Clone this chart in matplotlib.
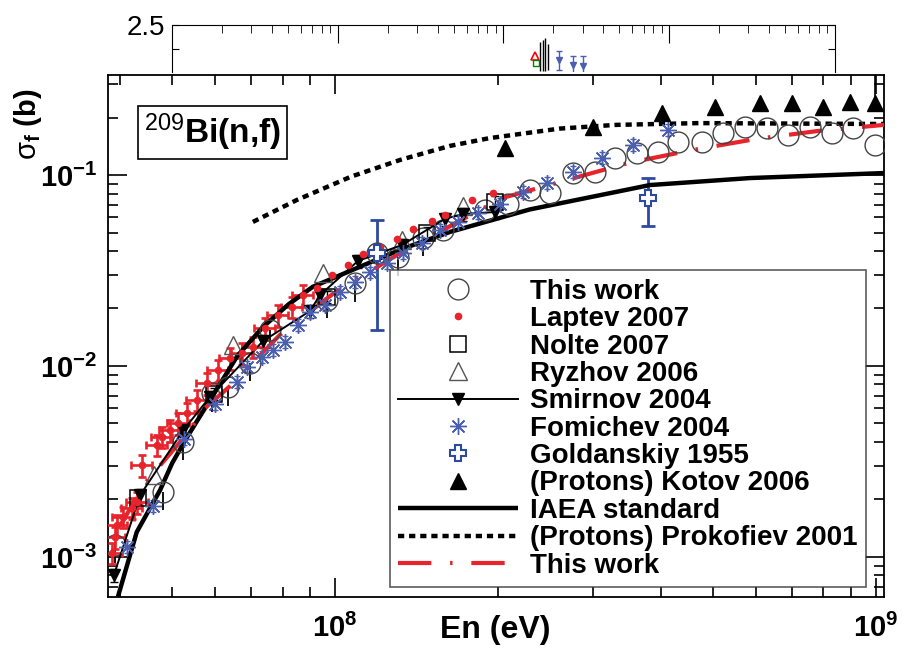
import math
import matplotlib
matplotlib.use('Agg')
import matplotlib.pyplot as plt
from matplotlib.ticker import LogLocator, FuncFormatter, NullFormatter, FixedLocator

plt.rcParams['font.family'] = ['Liberation Sans', 'DejaVu Sans']
plt.rcParams['mathtext.fontset'] = 'custom'
plt.rcParams['mathtext.rm'] = 'Liberation Sans'
plt.rcParams['mathtext.bf'] = 'Liberation Sans:bold'
plt.rcParams['mathtext.it'] = 'Liberation Sans:italic'
plt.rcParams['mathtext.sf'] = 'Liberation Sans'

RED = '#e8232b'
BLUE = '#4a5fb0'
DBLUE = '#2e4aa0'

# ---- data: neutron energy (eV), fission cross section (b) ----
this_e = [3.92e7, 4.81e7, 5.24e7, 5.92e7, 6.34e7, 6.96e7, 7.59e7, 9.66e7, 1.089e8, 1.196e8,
          1.307e8, 1.454e8, 1.583e8, 1.893e8, 2.088e8, 2.293e8, 2.497e8, 2.754e8, 3.024e8,
          3.294e8, 3.616e8, 3.954e8, 4.305e8, 4.77e8, 5.21e8, 5.73e8, 6.29e8, 6.88e8,
          7.55e8, 8.29e8, 9.07e8, 9.96e8]
this_s = [1.16e-3, 2.19e-3, 4.0e-3, 7.22e-3, 7.76e-3, 0.01037, 0.0154, 0.0222, 0.0272, 0.0391,
          0.0372, 0.0468, 0.0515, 0.0656, 0.0705, 0.0835, 0.0805, 0.1024, 0.1037,
          0.1228, 0.1303, 0.1318, 0.149, 0.149, 0.166, 0.178, 0.176, 0.162,
          0.178, 0.1665, 0.176, 0.1436]

laptev_e = [3.87e7, 3.92e7, 3.95e7, 4.06e7, 4.21e7, 4.31e7, 4.40e7, 4.69e7, 4.79e7, 4.95e7,
            5.13e7, 5.33e7, 5.56e7, 5.80e7, 6.08e7, 6.40e7, 6.73e7, 7.05e7, 7.42e7, 7.85e7,
            8.33e7, 8.73e7, 9.26e7, 9.87e7, 1.057e8, 1.127e8, 1.211e8, 1.302e8, 1.394e8,
            1.511e8, 1.597e8, 1.792e8, 1.96e8]
laptev_s = [1.05e-3, 1.27e-3, 1.47e-3, 1.62e-3, 1.81e-3, 1.94e-3, 3.03e-3, 3.86e-3, 4.25e-3, 4.62e-3,
            5.03e-3, 5.68e-3, 6.64e-3, 8.15e-3, 9.53e-3, 0.0110, 0.0117, 0.0126, 0.0158, 0.0185,
            0.0204, 0.0235, 0.0256, 0.0299, 0.0338, 0.0386, 0.0420, 0.0462, 0.0521,
            0.0574, 0.0618, 0.0740, 0.0805]

nolte_e = [4.32e7, 5.97e7, 9.66e7, 1.479e8, 1.975e8]
nolte_s = [2.04e-3, 7.13e-3, 0.023, 0.0497, 0.0723]

ryzhov_e = [4.63e7, 6.48e7, 9.50e7, 1.33e8, 1.724e8]
ryzhov_s = [2.69e-3, 0.0129, 0.0307, 0.0457, 0.0689]

smirnov_e = [3.9e7, 4.36e7, 5.24e7, 5.87e7, 7.36e7, 8.99e7, 9.38e7, 1.103e8, 1.33e8, 1.597e8, 1.724e8, 1.975e8]
smirnov_s = [8.0e-4, 2.1e-3, 4.6e-3, 6.88e-3, 0.0135, 0.0194, 0.0235, 0.0355, 0.043, 0.0589, 0.0625, 0.064]

fomichev_e = [4.13e7, 4.61e7, 5.26e7, 6.00e7, 6.59e7, 6.88e7, 7.33e7, 7.68e7, 8.08e7, 8.54e7,
              8.99e7, 9.58e7, 1.021e8, 1.089e8, 1.161e8, 1.248e8, 1.336e8, 1.448e8, 1.564e8,
              1.688e8, 1.838e8, 2.018e8, 2.226e8, 2.465e8, 2.754e8, 3.116e8, 3.555e8, 4.126e8]
fomichev_s = [1.13e-3, 1.85e-3, 4.15e-3, 6.33e-3, 8.25e-3, 9.88e-3, 0.01114, 0.01213, 0.01336, 0.0164,
              0.0192, 0.0209, 0.0244, 0.0275, 0.0310, 0.0346, 0.0391, 0.0441, 0.0515,
              0.0567, 0.0632, 0.0705, 0.0815, 0.0908, 0.1037, 0.1228, 0.1436, 0.172]

gold_e = [1.196e8, 3.79e8]
gold_s = [0.0391, 0.0758]
gold_lo = [0.0154, 0.0541]
gold_hi = [0.0581, 0.0964]

kotov_e = [2.06e8, 3.0e8, 4.02e8, 5.04e8, 6.11e8, 7.0e8, 7.98e8, 8.95e8, 9.96e8]
kotov_s = [0.1383, 0.178, 0.2114, 0.227, 0.238, 0.238, 0.227, 0.241, 0.238]

iaea_e = [3.97e7, 4.3e7, 4.75e7, 5.0e7, 5.33e7, 6.0e7, 6.6e7, 7.36e7, 8.2e7, 9.1e7, 1.11e8,
          1.33e8, 1.63e8, 2.29e8, 3.82e8, 5.85e8, 1.035e9]
iaea_s = [6.2e-4, 1.35e-3, 2.24e-3, 3.1e-3, 4.25e-3, 7.3e-3, 0.0113, 0.016, 0.021, 0.026, 0.033,
          0.041, 0.0503, 0.066, 0.0886, 0.0964, 0.1024]

prok_e = [7.05e7, 8.5e7, 1.07e8, 1.32e8, 1.63e8, 1.93e8, 2.6e8, 3.3e8, 4.7e8, 1.035e9]
prok_s = [0.0568, 0.074, 0.098, 0.12, 0.142, 0.156, 0.175, 0.183, 0.187, 0.185]

fit_e = [4.0e7, 4.49e7, 5.4e7, 5.7e7, 6.4e7, 7.9e7, 9.9e7, 1.3e8, 1.74e8, 2.04e8, 2.68e8,
         3.48e8, 4.57e8, 5.97e8, 7.8e8, 1.035e9]
fit_s = [1.45e-3, 2.5e-3, 4.62e-3, 5.9e-3, 7.85e-3, 0.0145, 0.0238, 0.038, 0.0596, 0.0758, 0.094,
         0.1155, 0.135, 0.154, 0.17, 0.183]

# small stray strip at the top of the page
strip_bar_x = [166, 172, 178, 186]
strip_bar_lo = [1.52, 1.52, 1.52, 1.55]
strip_bar_hi = [2.14, 2.18, 2.22, 2.1]
strip_blue_x = [217, 262, 302]
strip_blue_y = [1.75, 1.65, 1.63]

fig = plt.figure(figsize=(9.03, 6.52), dpi=100)
ax = fig.add_axes([108 / 903, 1 - 597 / 652, 776 / 903, 522 / 652])
ax.set_xscale('log')
ax.set_yscale('log')

# error bars first
ax.errorbar(laptev_e[:22], laptev_s[:22],
            xerr=[e * 0.045 for e in laptev_e[:22]], yerr=[s * 0.13 for s in laptev_s[:22]],
            fmt='none', ecolor=RED, elinewidth=1.9, capsize=3.2, capthick=1.9, zorder=3)
ax.errorbar(this_e[:12], this_s[:12], yerr=[[s * 0.2 for s in this_s[:12]], [0] * 12],
            fmt='none', ecolor='black', elinewidth=1.3, capsize=0, zorder=2)
ax.errorbar(smirnov_e, smirnov_s, yerr=[s * 0.08 for s in smirnov_s],
            fmt='none', ecolor='black', elinewidth=1.0, capsize=3, zorder=2)
ax.errorbar(nolte_e, nolte_s, yerr=[s * 0.07 for s in nolte_s],
            fmt='none', ecolor='black', elinewidth=1.0, capsize=3, zorder=2)
ax.errorbar(fomichev_e, fomichev_s, yerr=[s * 0.07 for s in fomichev_s],
            fmt='none', ecolor=BLUE, elinewidth=1.0, capsize=2.5, zorder=2)
ax.errorbar(gold_e, gold_s,
            yerr=[[s - lo for s, lo in zip(gold_s, gold_lo)], [hi - s for s, hi in zip(gold_s, gold_hi)]],
            fmt='none', ecolor=DBLUE, elinewidth=2, capsize=5, capthick=2, zorder=2)
ax.errorbar(kotov_e[-1:], kotov_s[-1:], yerr=[[0], [0.2]], fmt='none', ecolor='black',
            elinewidth=1.2, capsize=0, zorder=2)

# curves
h_iaea, = ax.plot(iaea_e, iaea_s, color='black', lw=3.2, solid_capstyle='butt', zorder=4,
                  label='IAEA standard')
h_prok, = ax.plot(prok_e, prok_s, color='black', lw=3.2, linestyle=(0, (1.4, 1.1)), zorder=4,
                  label='(Protons) Prokofiev 2001')
h_fit, = ax.plot(fit_e, fit_s, color=RED, lw=3.0, linestyle=(0, (8, 4.5, 0.6, 4.5)), zorder=5,
                 label='This work')

# markers
h_this, = ax.plot(this_e, this_s, 'o', ms=15, mfc='none', mec='#444444', mew=1.0, zorder=6,
                  label='This work')
h_lap, = ax.plot(laptev_e, laptev_s, 'o', ms=4.5, color=RED, mec=RED, zorder=7, label='Laptev 2007')
h_nol, = ax.plot(nolte_e, nolte_s, 's', ms=11, mfc='none', mec='black', mew=1.1, zorder=6,
                 label='Nolte 2007')
h_ryz, = ax.plot(ryzhov_e, ryzhov_s, '^', ms=13, mfc='none', mec='#555555', mew=1.0, zorder=6,
                 label='Ryzhov 2006')
h_smi, = ax.plot(smirnov_e, smirnov_s, 'v', ls='-', lw=1.4, ms=9, color='black', zorder=6,
                 label='Smirnov 2004')
h_fom, = ax.plot(fomichev_e, fomichev_s, marker=(8, 2, 0), ls='none', ms=12, color=BLUE, mew=1.0,
                 zorder=6, label='Fomichev 2004')
h_gol, = ax.plot(gold_e, gold_s, 'P', ms=12, mfc='white', mec=DBLUE, mew=1.5, zorder=7,
                 label='Goldanskiy 1955')
h_kot, = ax.plot(kotov_e, kotov_s, '^', ms=11, color='black', zorder=6, label='(Protons) Kotov 2006')

ax.set_xlim(3.805e7, 1.035e9)
ax.set_ylim(6.17e-4, 0.334)


def pow_fmt(v, pos):
    if v <= 0:
        return ''
    p = int(round(math.log10(v)))
    return r'$\mathbf{10}^{\mathbf{%d}}$' % p


ax.xaxis.set_major_locator(FixedLocator([1e8, 1e9]))
ax.yaxis.set_major_locator(FixedLocator([1e-3, 1e-2, 1e-1]))
ax.xaxis.set_minor_locator(LogLocator(base=10, subs=range(2, 10)))
ax.yaxis.set_minor_locator(LogLocator(base=10, subs=range(2, 10)))
ax.xaxis.set_major_formatter(FuncFormatter(pow_fmt))
ax.yaxis.set_major_formatter(FuncFormatter(pow_fmt))
ax.xaxis.set_minor_formatter(NullFormatter())
ax.yaxis.set_minor_formatter(NullFormatter())
ax.tick_params(which='both', direction='in', top=True, right=True, width=1.2, labelsize=21)
ax.tick_params(which='major', length=14)
ax.tick_params(which='minor', length=7)
ax.tick_params(axis='x', pad=12)
ax.tick_params(axis='y', pad=8)
for sp in ax.spines.values():
    sp.set_linewidth(1.3)

ax.set_xlabel('En (eV)', fontsize=23, fontweight='bold')
ax.xaxis.set_label_coords(0.499, -0.035)
ax.set_ylabel(r'$\mathrm{\sigma}_{\mathbf{f}}$ (b)', fontsize=21, fontweight='bold')
ax.yaxis.set_label_coords(-0.082, 0.905)

ax.text(0.046, 0.89, r'$^{\mathrm{209}}\mathbf{Bi(n{,}f)}$', transform=ax.transAxes, fontsize=24,
        va='center', ha='left',
        bbox=dict(boxstyle='square,pad=0.18', fc='white', ec='black', lw=1.2))

handles = [h_this, h_lap, h_nol, h_ryz, h_smi, h_fom, h_gol, h_kot, h_iaea, h_prok, h_fit]
leg = ax.legend(handles=handles, loc='lower left', bbox_to_anchor=(0.3634, 0.0192),
                borderaxespad=0, fancybox=False, frameon=True, edgecolor='#333333',
                prop={'family': 'Liberation Sans', 'weight': 'bold', 'size': 20},
                handlelength=4.3, handletextpad=0.45, labelspacing=0.05, borderpad=0.3,
                numpoints=1)
leg.get_frame().set_linewidth(1.2)
leg.set_zorder(10)

# stray strip at the top
sx = fig.add_axes([172 / 903, 1 - 72 / 652, 663 / 903, 47 / 652])
sx.set_xscale('log')
sx.set_xlim(1, 1e4)
sx.set_ylim(1.5, 2.5)
sx.vlines(strip_bar_x, strip_bar_lo, strip_bar_hi, color='black', lw=1.0)
sx.plot([155], [1.85], '^', ms=6, mfc='none', mec='red', mew=1.2)
sx.plot([158], [1.69], 's', ms=4.5, mfc='none', mec='green', mew=1.0)
sx.errorbar(strip_blue_x, strip_blue_y, yerr=0.2, fmt='none', ecolor=BLUE, lw=1.0, capsize=2)
sx.plot(strip_blue_x, strip_blue_y, marker='v', ls='none', ms=5, color=BLUE)
sx.spines['bottom'].set_visible(False)
sx.xaxis.set_major_locator(FixedLocator([10, 100, 1000]))
sx.xaxis.set_minor_locator(LogLocator(base=10, subs=range(2, 10)))
sx.xaxis.set_major_formatter(NullFormatter())
sx.xaxis.set_minor_formatter(NullFormatter())
sx.tick_params(axis='x', which='both', direction='in', top=True, bottom=False, labeltop=False,
               labelbottom=False)
sx.tick_params(axis='x', which='major', length=13)
sx.tick_params(axis='x', which='minor', length=6)
sx.set_yticks([2.5, 2.0])
sx.set_yticklabels(['2.5', ''])
sx.tick_params(axis='y', which='both', direction='in', right=True, length=5, labelsize=20, pad=5)
sx.tick_params(axis='y', which='minor', left=False, right=False)
sx.patch.set_alpha(0)

fig.savefig('out.png', dpi=100)
